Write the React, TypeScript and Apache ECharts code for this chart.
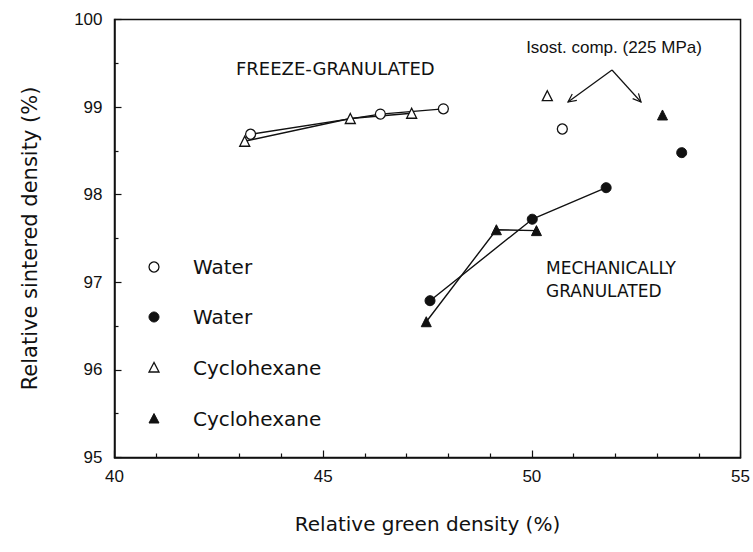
import React, { useEffect, useRef } from "react";
import * as echarts from "echarts";

// Freeze-granulated
const fgWaterX = [43.26, 46.37, 47.88];
const fgWaterY = [98.69, 98.92, 98.98];
const fgCycloX = [43.12, 45.65, 47.12];
const fgCycloY = [98.61, 98.87, 98.93];
// Mechanically granulated
const mgWaterX = [47.56, 50.01, 51.78];
const mgWaterY = [96.79, 97.72, 98.08];
const mgCycloX = [47.47, 49.15, 50.11];
const mgCycloY = [96.55, 97.6, 97.59];
// Isostatic compaction (225 MPa)
const isoFgCyclo = [50.37, 99.13];
const isoFgWater = [50.73, 98.75];
const isoMgCyclo = [53.13, 98.91];
const isoMgWater = [53.59, 98.48];

const xTicks = [40, 45, 50, 55];
const yTicks = [95, 96, 97, 98, 99, 100];
const legendLabels = ["Water", "Water", "Cyclohexane", "Cyclohexane"];

const zip = (xs: number[], ys: number[]) => xs.map((x, i) => [x, ys[i]]);

const INK = "#111";
const openStyle = { color: "#fff", borderColor: INK, borderWidth: 1.3, opacity: 1 };
const fillStyle = { color: INK, borderColor: INK, borderWidth: 1, opacity: 1 };

function arrowHead(fx: number, fy: number, tx: number, ty: number, len: number, ang: number) {
  const a = Math.atan2(fy - ty, fx - tx);
  return [
    [tx + len * Math.cos(a + ang), ty + len * Math.sin(a + ang)],
    [tx, ty],
    [tx + len * Math.cos(a - ang), ty + len * Math.sin(a - ang)],
  ];
}

export default function App() {
  const ref = useRef<HTMLDivElement>(null);
  useEffect(() => {
    if (!ref.current) return;
    const chart = echarts.init(ref.current, undefined, { renderer: "svg" });
    const lineSeries = (data: number[][], symbol: string, style: any) => ({
      type: "line",
      data,
      symbol,
      symbolSize: 10,
      showSymbol: true,
      lineStyle: { color: INK, width: 1.4 },
      itemStyle: style,
      z: 3,
    });
    const dotSeries = (pt: number[], symbol: string, style: any) => ({
      type: "scatter",
      data: [pt],
      symbol,
      symbolSize: 10,
      itemStyle: style,
      z: 4,
    });
    const apex = [612, 70];
    const tipL = [568, 102];
    const tipR = [641, 102];
    const legendRows = [267, 317, 368, 419];
    const legendX = 154;
    const legendMarkers: any[] = [
      { type: "circle", shape: { cx: legendX, cy: legendRows[0], r: 5 }, style: { fill: "#fff", stroke: INK, lineWidth: 1.3 } },
      { type: "circle", shape: { cx: legendX, cy: legendRows[1], r: 5 }, style: { fill: INK, stroke: INK, lineWidth: 1 } },
      {
        type: "polygon",
        shape: { points: [[legendX, legendRows[2] - 5.5], [legendX - 5, legendRows[2] + 4], [legendX + 5, legendRows[2] + 4]] },
        style: { fill: "#fff", stroke: INK, lineWidth: 1.3 },
      },
      {
        type: "polygon",
        shape: { points: [[legendX, legendRows[3] - 5.5], [legendX - 5, legendRows[3] + 4], [legendX + 5, legendRows[3] + 4]] },
        style: { fill: INK, stroke: INK, lineWidth: 1 },
      },
    ];
    const legendTexts = legendLabels.map((t, i) => ({
      type: "text",
      x: 193,
      y: legendRows[i],
      style: { text: t, font: "20px 'DejaVu Sans'", fill: INK, verticalAlign: "middle" },
    }));
    chart.setOption({
      animation: false,
      backgroundColor: "#fff",
      grid: { left: 114.5, right: 11, top: 19.5, bottom: 94.5, show: true, borderColor: INK, borderWidth: 1.5, backgroundColor: "transparent" },
      xAxis: {
        type: "value",
        min: xTicks[0],
        max: xTicks[xTicks.length - 1],
        interval: 5,
        name: "Relative green density (%)",
        nameLocation: "middle",
        nameGap: 56,
        nameTextStyle: { fontFamily: "DejaVu Sans", fontSize: 20, color: INK },
        axisLine: { lineStyle: { color: INK, width: 1.5 } },
        axisTick: { inside: true, length: 7, lineStyle: { color: INK, width: 1.2 } },
        minorTick: { show: true, splitNumber: 5, length: 4, lineStyle: { color: INK, width: 1.2 } },
        axisLabel: { fontFamily: "Liberation Sans", fontSize: 17, color: INK, margin: 10 },
        splitLine: { show: false },
      },
      yAxis: {
        type: "value",
        min: yTicks[0],
        max: yTicks[yTicks.length - 1],
        interval: 1,
        name: "Relative sintered density (%)",
        nameLocation: "middle",
        nameGap: 74,
        nameTextStyle: { fontFamily: "DejaVu Sans", fontSize: 21, color: INK },
        axisLine: { lineStyle: { color: INK, width: 1.5 } },
        axisTick: { inside: true, length: 7, lineStyle: { color: INK, width: 1.2 } },
        minorTick: { show: true, splitNumber: 2, length: 4, lineStyle: { color: INK, width: 1.2 } },
        axisLabel: { fontFamily: "Liberation Sans", fontSize: 17, color: INK, margin: 12 },
        splitLine: { show: false },
      },
      series: [
        lineSeries(zip(fgWaterX, fgWaterY), "circle", openStyle),
        lineSeries(zip(fgCycloX, fgCycloY), "triangle", openStyle),
        lineSeries(zip(mgWaterX, mgWaterY), "circle", fillStyle),
        lineSeries(zip(mgCycloX, mgCycloY), "triangle", fillStyle),
        dotSeries(isoFgCyclo, "triangle", openStyle),
        dotSeries(isoFgWater, "circle", openStyle),
        dotSeries(isoMgCyclo, "triangle", fillStyle),
        dotSeries(isoMgWater, "circle", fillStyle),
      ],
      graphic: [
        {
          type: "text",
          x: 236,
          y: 68,
          style: { text: "FREEZE-GRANULATED", font: "18px 'DejaVu Sans'", fill: INK, verticalAlign: "middle" },
        },
        {
          type: "text",
          x: 546,
          y: 268,
          style: { text: "MECHANICALLY", font: "17px 'DejaVu Sans'", fill: INK, verticalAlign: "middle" },
        },
        {
          type: "text",
          x: 546,
          y: 291,
          style: { text: "GRANULATED", font: "17px 'DejaVu Sans'", fill: INK, verticalAlign: "middle" },
        },
        {
          type: "text",
          x: 614,
          y: 47,
          style: { text: "Isost. comp. (225 MPa)", font: "17px 'Liberation Sans'", fill: INK, align: "center", verticalAlign: "middle" },
        },
        { type: "line", shape: { x1: apex[0], y1: apex[1], x2: tipL[0], y2: tipL[1] }, style: { stroke: INK, lineWidth: 1.2 } },
        { type: "line", shape: { x1: apex[0], y1: apex[1], x2: tipR[0], y2: tipR[1] }, style: { stroke: INK, lineWidth: 1.2 } },
        { type: "polyline", shape: { points: arrowHead(apex[0], apex[1], tipL[0], tipL[1], 9, 0.45) }, style: { stroke: INK, lineWidth: 1.2, fill: "none" } },
        { type: "polyline", shape: { points: arrowHead(apex[0], apex[1], tipR[0], tipR[1], 9, 0.45) }, style: { stroke: INK, lineWidth: 1.2, fill: "none" } },
        ...legendMarkers,
        ...legendTexts,
      ],
    });
    return () => chart.dispose();
  }, []);
  return <div ref={ref} style={{ width: 753, height: 552, position: "absolute", left: 0, top: 0 }} />;
}
